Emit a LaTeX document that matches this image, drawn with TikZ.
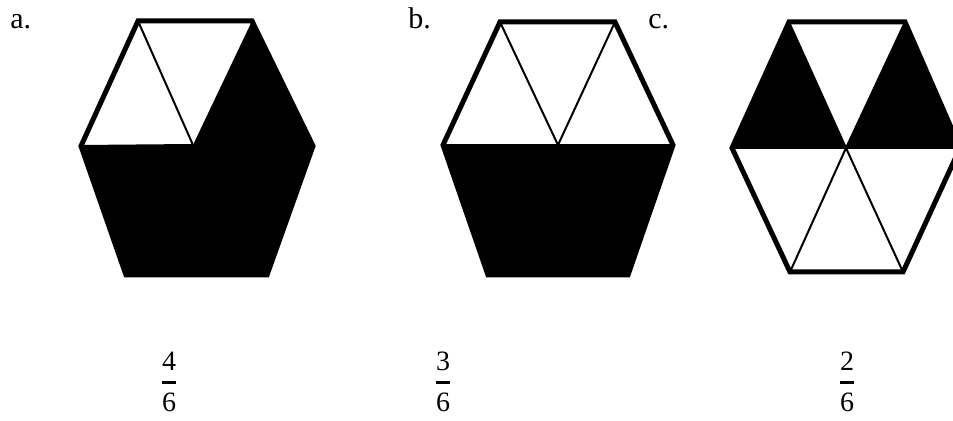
\documentclass[tikz,border=0pt]{standalone}
\usepackage{amsmath}
\usepackage{fontspec}
\setmainfont{Liberation Serif}
\usetikzlibrary{positioning}

\begin{document}
\begin{tikzpicture}[x=0.5pt,y=-0.5pt,
    rim/.style={line width=2.5pt,line join=miter},
    spoke/.style={line width=1pt},
    part/.style={fill=black},
    tag/.style={font=\fontsize{15}{18}\selectfont,anchor=base west,inner sep=0pt},
    fracnode/.style={font=\fontsize{14}{16}\selectfont,inner sep=0pt}]
  \useasboundingbox (0,0) rectangle (953,421);
  \clip (0,0) rectangle (953,421);

  % hexagon a: 4/6
  \coordinate (aTL) at (138,21);  \coordinate (aTR) at (252,21);
  \coordinate (aR) at (313,146);  \coordinate (aBR) at (267,275);
  \coordinate (aBL) at (126,275); \coordinate (aL) at (81,146);
  \coordinate (aC) at (193,145);
  \fill[part] (aTR) -- (aR) -- (aBR) -- (aBL) -- (aL) -- (aC) -- cycle;
  \draw[rim] (aTL) -- (aTR) -- (aR) -- (aBR) -- (aBL) -- (aL) -- cycle;
  \draw[spoke] (aTL) -- (aC) -- (aL);

  % hexagon b: 3/6
  \coordinate (bTL) at (500,22);  \coordinate (bTR) at (615,22);
  \coordinate (bR) at (673,145);  \coordinate (bBR) at (628,275);
  \coordinate (bBL) at (488,275); \coordinate (bL) at (443,145);
  \coordinate (bC) at (558,145);
  \fill[part] (bR) -- (bBR) -- (bBL) -- (bL) -- cycle;
  \draw[rim] (bTL) -- (bTR) -- (bR) -- (bBR) -- (bBL) -- (bL) -- cycle;
  \draw[spoke] (bTL) -- (bC) -- (bTR);
  \draw[spoke] (bL) -- (bR);

  % hexagon c: 2/6
  \coordinate (cTL) at (789,22);  \coordinate (cTR) at (905,22);
  \coordinate (cR) at (960,148);  \coordinate (cBR) at (903,272);
  \coordinate (cBL) at (790,272); \coordinate (cL) at (732,148);
  \coordinate (cC) at (846,148);
  \fill[part] (cTL) -- (cC) -- (cL) -- cycle;
  \fill[part] (cTR) -- (cR) -- (cC) -- cycle;
  \draw[rim] (cTL) -- (cTR) -- (cR) -- (cBR) -- (cBL) -- (cL) -- cycle;
  \draw[spoke] (cL) -- (cR);
  \foreach \v in {TL,TR,BR,BL} \draw[spoke] (c\v) -- (cC);

  % labels
  \node[tag] (la) at (10,29) {a.};
  \node[tag] (lb) at (408,29) {b.};
  \node[tag] (lc) at (648,29) {c.};

  % fractions
  \node[fracnode] (fa) at (169,382) {$\genfrac{}{}{1.5pt}{0}{\text{4}}{\text{6}}$};
  \node[fracnode] (fb) at (443,382) {$\genfrac{}{}{1.5pt}{0}{\text{3}}{\text{6}}$};
  \node[fracnode] (fc) at (847,382) {$\genfrac{}{}{1.5pt}{0}{\text{2}}{\text{6}}$};
\end{tikzpicture}
\end{document}
